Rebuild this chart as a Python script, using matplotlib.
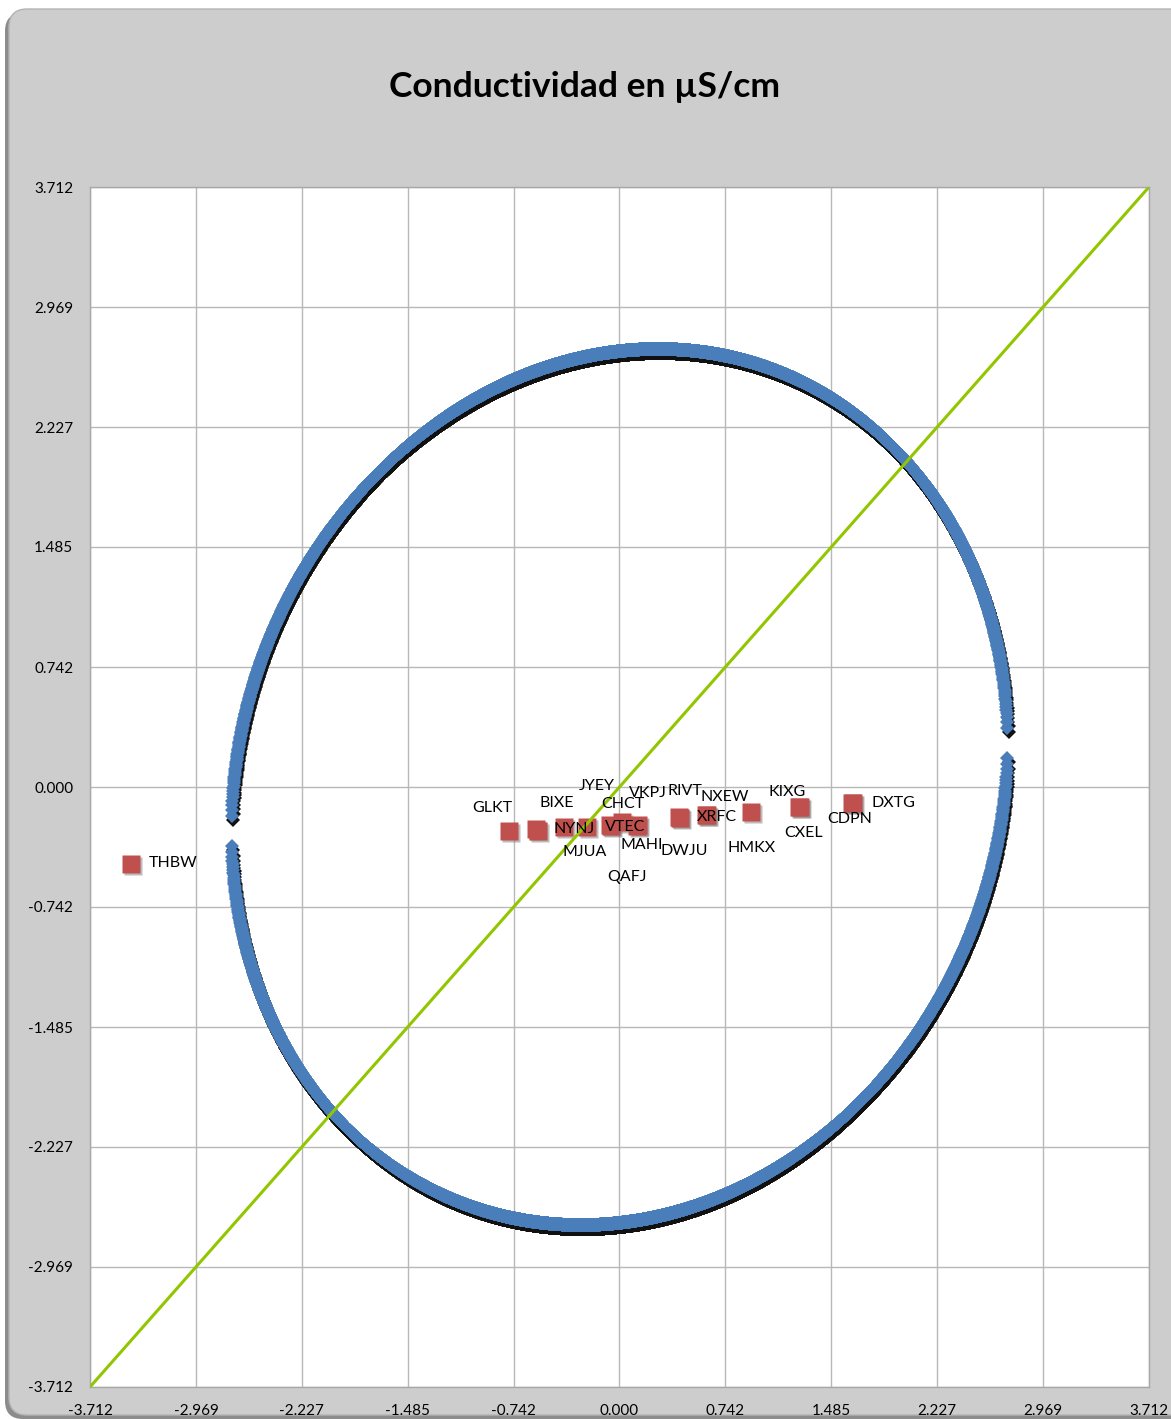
import numpy as np
import matplotlib
matplotlib.use("Agg")
import matplotlib.pyplot as plt
from matplotlib.patches import FancyBboxPatch
from matplotlib.transforms import ScaledTranslation, IdentityTransform

plt.rcParams['font.family'] = ['Lato', 'DejaVu Sans']

# Sample codes with their scores
codes = ["THBW", "GLKT", "BIXE", "NYNJ", "MJUA", "VTEC", "JYEY", "CHCT", "QAFJ", "VKPJ",
         "MAHI", "RIVT", "DWJU", "XRFC", "NXEW", "HMKX", "KIXG", "CXEL", "DXTG", "CDPN"]
x_vals = [-3.428, -0.775, -0.586, -0.572, -0.389, -0.228, -0.067, 0.018, -0.060, 0.130,
          0.123, 0.418, 0.425, 0.614, 0.607, 0.923, 1.260, 1.267, 1.639, 1.632]
y_vals = [-0.476, -0.272, -0.260, -0.272, -0.248, -0.248, -0.235, -0.217, -0.241, -0.235,
          -0.241, -0.186, -0.192, -0.173, -0.173, -0.155, -0.124, -0.124, -0.099, -0.099]

# Axis ticks
tick_values = [-3.712, -2.969, -2.227, -1.485, -0.742, 0.0, 0.742, 1.485, 2.227, 2.969, 3.712]
tick_labels = ["-3.712", "-2.969", "-2.227", "-1.485", "-0.742", "0.000",
               "0.742", "1.485", "2.227", "2.969", "3.712"]

# Identity reference line
ref_x = [-3.712, 3.712]
ref_y = [-3.712, 3.712]

# Tolerance ellipse parameters
ell_half_width = 2.72
ell_half_height = 2.71
ell_corr = 0.10
ell_step = 0.0016

title = "Conductividad en µS/cm"

# Label placement (pixel offsets from each point)
label_offsets = {
    "THBW": (43, -1), "GLKT": (-17, -23), "BIXE": (21, -26), "NYNJ": (36, -2),
    "MJUA": (21, 25), "VTEC": (38, 0), "JYEY": (-13, -39), "CHCT": (1, -18),
    "QAFJ": (16, 51), "VKPJ": (10, -32), "MAHI": (5, 19), "RIVT": (6, -26),
    "DWJU": (4, 33), "XRFC": (10, 2), "NXEW": (19, -18), "HMKX": (0, 36),
    "KIXG": (-12, -15), "CXEL": (3, 26), "DXTG": (40, 0), "CDPN": (-3, 16),
}

W, H = 1171, 1419
fig = plt.figure(figsize=(W / 100, H / 100), dpi=100, facecolor="white")

# Chart area with rounded frame and shadow
shadow = FancyBboxPatch((5, 0), 1190, 1406, boxstyle="round,pad=0,rounding_size=18",
                        transform=IdentityTransform(), facecolor="#8c8c8c", edgecolor="none",
                        zorder=-3)
frame = FancyBboxPatch((9, 4), 1190, 1406, boxstyle="round,pad=0,rounding_size=18",
                       transform=IdentityTransform(), facecolor="#cdcdcd",
                       edgecolor="#b4b4b4", linewidth=1, zorder=-2)
fig.add_artist(shadow)
fig.add_artist(frame)

fig.text(585 / W, 1 - 87 / H, title, fontsize=25.5, fontweight="bold",
         ha="center", va="center")

ax = fig.add_axes([90 / W, 1 - 1387 / H, 1059 / W, 1200 / H])
ax.set_facecolor("white")
ax.set_xlim(-3.712, 3.712)
ax.set_ylim(-3.712, 3.712)
ax.set_xticks(tick_values, tick_labels)
ax.set_yticks(tick_values, tick_labels)
ax.grid(True, color="#b8b8b8", linewidth=1)
ax.set_axisbelow(True)
ax.tick_params(length=0, labelsize=11)
ax.tick_params(axis="y", pad=12)
ax.tick_params(axis="x", pad=12)
for sp in ax.spines.values():
    sp.set_color("#a8a8a8")
    sp.set_linewidth(1)

# Ellipse as upper and lower arcs sampled along x
A, B, rho = ell_half_width, ell_half_height, ell_corr
xs = np.arange(-A + ell_step, A - ell_step / 2, ell_step)
u = xs / A
root = np.sqrt(np.clip(1 - u ** 2, 0, None))
centre_line = B * rho * u
spread = B * np.sqrt(1 - rho ** 2) * root
arcs = [centre_line + spread, centre_line - spread]

shadow_tr = ax.transData + ScaledTranslation(1.2 / 72, -3 / 72, fig.dpi_scale_trans)
for arc in arcs:
    ax.plot(xs, arc, ls="none", marker="D", ms=7.1, mfc="#111111", mec="#111111",
            mew=0, transform=shadow_tr, zorder=2)
for arc in arcs:
    ax.plot(xs, arc, ls="none", marker="D", ms=7.1, mfc="#4a7ebb", mec="#4a7ebb",
            mew=0, zorder=3)

# Sample points
sq_shadow_tr = ax.transData + ScaledTranslation(1.5 / 72, -1.5 / 72, fig.dpi_scale_trans)
ax.plot(x_vals, y_vals, ls="none", marker="s", ms=12.4, mfc="#7a7a7a", mec="none",
        alpha=0.5, transform=sq_shadow_tr, zorder=4)
ax.plot(x_vals, y_vals, ls="none", marker="s", ms=12.4, mfc="#c0504d", mec="none", zorder=4.5)

ax.plot(ref_x, ref_y, color="#92c600", linewidth=2.2, zorder=5)

for code, x, y in zip(codes, x_vals, y_vals):
    dx, dy = label_offsets[code]
    ax.annotate(code, (x, y), xytext=(dx, -dy), textcoords="offset pixels",
                ha="center", va="center", fontsize=11.5, zorder=6)

fig.savefig("out.png", dpi=100)
